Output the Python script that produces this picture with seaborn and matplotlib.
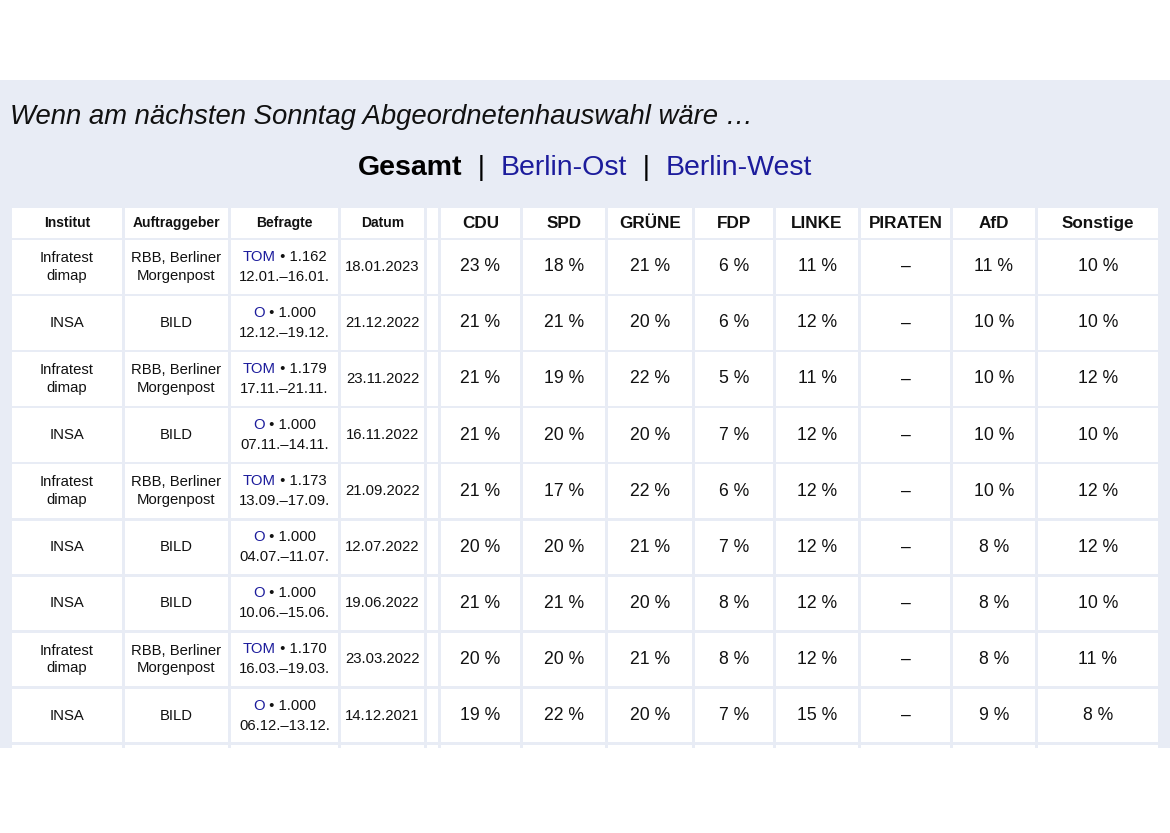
import matplotlib
matplotlib.use("Agg")
import matplotlib.pyplot as plt
import seaborn as sns
from matplotlib.patches import Rectangle

sns.set_theme(style="white")
plt.rcParams['font.family'] = ['Liberation Sans', 'DejaVu Sans']

title = "Wenn am nächsten Sonntag Abgeordnetenhauswahl wäre …"
headers = ["Institut", "Auftraggeber", "Befragte", "Datum", "", "CDU", "SPD", "GRÜNE", "FDP", "LINKE", "PIRATEN", "AfD", "Sonstige"]
institut = ["Infratest\ndimap", "INSA", "Infratest\ndimap", "INSA", "Infratest\ndimap", "INSA", "INSA", "Infratest\ndimap", "INSA"]
auftrag = ["RBB, Berliner\nMorgenpost", "BILD", "RBB, Berliner\nMorgenpost", "BILD", "RBB, Berliner\nMorgenpost", "BILD", "BILD", "RBB, Berliner\nMorgenpost", "BILD"]
methode = ["TOM", "O", "TOM", "O", "TOM", "O", "O", "TOM", "O"]
befragte = ["1.162", "1.000", "1.179", "1.000", "1.173", "1.000", "1.000", "1.170", "1.000"]
zeitraum = ["12.01.–16.01.", "12.12.–19.12.", "17.11.–21.11.", "07.11.–14.11.", "13.09.–17.09.", "04.07.–11.07.", "10.06.–15.06.", "16.03.–19.03.", "06.12.–13.12."]
datum = ["18.01.2023", "21.12.2022", "23.11.2022", "16.11.2022", "21.09.2022", "12.07.2022", "19.06.2022", "23.03.2022", "14.12.2021"]
cdu = [23, 21, 21, 21, 21, 20, 21, 20, 19]
spd = [18, 21, 19, 20, 17, 20, 21, 20, 22]
gruene = [21, 20, 22, 20, 22, 21, 20, 21, 20]
fdp = [6, 6, 5, 7, 6, 7, 8, 8, 7]
linke = [11, 12, 11, 12, 12, 12, 12, 12, 15]
piraten = [None] * 9
afd = [11, 10, 10, 10, 10, 8, 8, 8, 9]
sonstige = [10, 10, 12, 10, 12, 12, 10, 11, 8]
parties = [cdu, spd, gruene, fdp, linke, piraten, afd, sonstige]

BG = "#e8ecf5"
BLUE = "#1c1c9c"
cols = [(12, 122), (125, 228), (231, 338), (341, 424), (427, 438), (441, 520), (523, 605),
        (608, 692), (695, 773), (776, 858), (861, 950), (953, 1035), (1038, 1158)]

fig = plt.figure(figsize=(11.7, 8.33), dpi=100)
ax = fig.add_axes([0, 0, 1, 1])
ax.set_xlim(0, 1170); ax.set_ylim(833, 0); ax.axis("off")
ax.add_patch(Rectangle((0, 80), 1170, 668, color=BG, lw=0))

ax.text(10, 117, title, fontsize=19.8, style="italic", va="center", ha="left", color="#111")
parts = [("Gesamt", "black", "bold"), ("  |  ", "black", "normal"), ("Berlin-Ost", BLUE, "normal"),
         ("  |  ", "black", "normal"), ("Berlin-West", BLUE, "normal")]
r = fig.canvas.get_renderer()
tmp = []
for s, c, w in parts:
    t = ax.text(0, 168, s, fontsize=20.5, color=c, weight=w, va="center", ha="left")
    tmp.append(t)
widths = [t.get_window_extent(r).width for t in tmp]
x = 585 - sum(widths) / 2
for t, wdt in zip(tmp, widths):
    t.set_x(x); x += wdt

def cell(x0, x1, y0, y1):
    ax.add_patch(Rectangle((x0, y0), x1 - x0, y1 - y0, color="white", lw=0))

for k, ((x0, x1), h) in enumerate(zip(cols, headers)):
    cell(x0, x1, 208, 238)
    fs = 10 if k < 4 else 12.3
    ax.text((x0 + x1) / 2, 223, h, fontsize=fs, weight="bold", ha="center", va="center", color="#111")

rowh, gap, y = 53.5, 2.6, 240
for i in range(9):
    y0, y1 = y + i * (rowh + gap), y + i * (rowh + gap) + rowh
    yc = (y0 + y1) / 2
    for x0, x1 in cols:
        cell(x0, x1, y0, y1)
    cx = lambda k: (cols[k][0] + cols[k][1]) / 2
    ax.text(cx(0), yc, institut[i], fontsize=10.7, ha="center", va="center", linespacing=1.35, color="#111")
    ax.text(cx(1), yc, auftrag[i], fontsize=10.7, ha="center", va="center", linespacing=1.35, color="#111")
    t1 = ax.text(0, yc - 10, methode[i], fontsize=10.7, color=BLUE, ha="left", va="center")
    t2 = ax.text(0, yc - 10, " • " + befragte[i], fontsize=10.7, color="#111", ha="left", va="center")
    w1 = t1.get_window_extent(r).width; w2 = t2.get_window_extent(r).width
    xs = cx(2) - (w1 + w2) / 2
    t1.set_x(xs); t2.set_x(xs + w1)
    ax.text(cx(2), yc + 10, zeitraum[i], fontsize=10.7, ha="center", va="center", color="#111")
    ax.text(cx(3), yc, datum[i], fontsize=10.7, ha="center", va="center", color="#111")
    for k, p in enumerate(parties):
        v = p[i]
        s = "–" if v is None else f"{v} %"
        ax.text(cx(5 + k), yc, s, fontsize=12.7, ha="center", va="center", color="#111")
yn = y + 9 * (rowh + gap)
for x0, x1 in cols:
    cell(x0, x1, yn, 748)

fig.savefig("out.png", dpi=100)
